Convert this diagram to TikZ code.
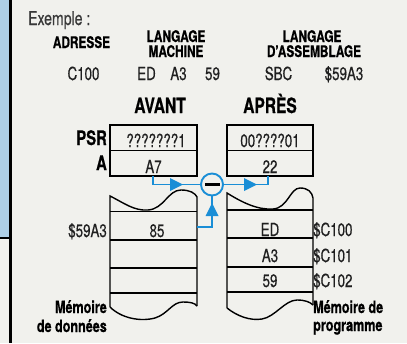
\documentclass[tikz,border=0pt]{standalone}
\usepackage{fontspec}
\setmainfont{TeX Gyre Heros}[FakeStretch=0.74, BoldFeatures={FakeBold=0.6}]
\newfontfamily\valfont{TeX Gyre Heros}[FakeStretch=0.74, FakeBold=0.5]
\usetikzlibrary{arrows.meta}
\definecolor{bg}{HTML}{F1F1ED}
\definecolor{strip}{HTML}{AECFE6}
\definecolor{lblue}{HTML}{1A8ED6}
\begin{document}
\begin{tikzpicture}[x=1pt,y=-1pt,
  hdr/.style={font=\fontsize{16}{18}\selectfont\bfseries, inner sep=0, align=center},
  val/.style={font=\valfont\fontsize{18}{20}\selectfont, inner sep=0, text=black!88},
  big/.style={font=\fontsize{21}{23}\selectfont\bfseries, inner sep=0},
  reg/.style={font=\fontsize{20}{22}\selectfont\bfseries, inner sep=0, anchor=base east},
  cell/.style={draw, line width=1.4, inner sep=0},
  mem/.style={line width=1.4},
  memlbl/.style={font=\fontsize{17}{19}\selectfont\bfseries, inner sep=0},
  flow/.style={draw=lblue, line width=1.9},
  tri/.style={fill=lblue}
]
\useasboundingbox (0,0) rectangle (407,343);
\fill[bg] (0,0) rectangle (407,343);
\fill[strip] (0,0) rectangle (10,238);
\draw[line width=1.2] (0,238) -- (10,238);
\draw[line width=2.5] (10.5,0) -- (10.5,343);

% header texts
\node[anchor=base west, inner sep=0, font=\valfont\fontsize{19}{22}\selectfont, text=black!78] (ex) at (28,25) {Exemple :};
\node[hdr, anchor=base] (adr) at (81.5,48) {ADRESSE};
\node[hdr, anchor=base] (lm1) at (176,42) {LANGAGE};
\node[hdr, anchor=base] (lm2) at (176,57) {MACHINE};
\node[hdr, anchor=base] (la1) at (312,42) {LANGAGE};
\node[hdr, anchor=base] (la2) at (314,57) {D'ASSEMBLAGE};

\node[val, anchor=base] (c100) at (83.5,80) {C100};
\node[val, anchor=base] (ed) at (146.5,80) {ED};
\node[val, anchor=base] (a3) at (178.5,80) {A3};
\node[val, anchor=base] (n59) at (212.5,80) {59};
\node[val, anchor=base] (sbc) at (278.5,80) {SBC};
\node[val, anchor=base] (addr) at (344,80) {\$59A3};

\node[big, anchor=base] (avant) at (160,113) {AVANT};
\node[big, anchor=base] (apres) at (270,113) {APRÈS};

% registers
\node[cell, minimum width=87pt, minimum height=25.5pt] (psr1) at (153.5,137.75) {};
\node[cell, minimum width=87pt, minimum height=25.5pt] (a1) at (153.5,163.25) {};
\node[cell, minimum width=86pt, minimum height=25.5pt] (psr2) at (270,137.75) {};
\node[cell, minimum width=86pt, minimum height=25.5pt] (a2) at (270,163.25) {};
\node[val, anchor=base] (t1) at (156,147) {???????1};
\node[val, anchor=base] (t2) at (153.5,173) {A7};
\node[val, anchor=base] (t3) at (270,147) {00????01};
\node[val, anchor=base] (t4) at (270,173) {22};
\node[reg] (lpsr) at (107,145) {PSR};
\node[reg] (la) at (107,170) {A};

% left memory
\draw[mem] (110,307) -- (110,196)
  .. controls (124,203) and (134,211) .. (148,210)
  .. controls (164,209) and (168,190) .. (181,190)
  .. controls (190,190) and (195,193) .. (197,197) -- (197,306);
\draw[mem] (110,307) .. controls (121,318) and (140,322) .. (155,318)
  .. controls (168,314) and (172,302) .. (183,302)
  .. controls (190,302) and (195,303) .. (197,306);
\foreach \yy in {211.5,240,268,293} \draw[mem] (110,\yy) -- (197,\yy);
\coordinate (m1) at (197,227);
\node[val, anchor=base] (v85) at (157,237) {85};
\node[val, anchor=base east] (l59a3) at (107,237) {\$59A3};

% right memory
\draw[mem] (227,308) -- (227,193)
  .. controls (243,203) and (258,210) .. (273,209)
  .. controls (288,208) and (290,188) .. (300,188)
  .. controls (308,188) and (312,192) .. (313,198) -- (313,305);
\draw[mem] (227,308) .. controls (237,316) and (250,321) .. (262,319)
  .. controls (275,317) and (285,300) .. (297,300)
  .. controls (305,300) and (310,302) .. (313,305);
\foreach \yy in {210,238,267,292} \draw[mem] (227,\yy) -- (313,\yy);
\node[val, anchor=base] (ved) at (270,236) {ED};
\node[val, anchor=base] (va3) at (270,262) {A3};
\node[val, anchor=base] (v59) at (270,287) {59};
\node[val, anchor=base west] (ad0) at (313,236) {\$C100};
\node[val, anchor=base west] (ad1) at (313,262) {\$C101};
\node[val, anchor=base west] (ad2) at (313,287) {\$C102};

\node[memlbl, anchor=base east] (mdl) at (107,313) {Mémoire};
\node[memlbl, anchor=base east] (mdl2) at (107,332) {de données};
\node[memlbl, anchor=base west] (mpl) at (313,313) {Mémoire de};
\node[memlbl, anchor=base west] (mpl2) at (313,331) {programme};

% operator
\node[draw=lblue, line width=1.9, circle, minimum size=22pt, inner sep=0] (op) at (212,184.5) {};
\draw[line width=2.6] (205,184.5) -- (220,184.5);

% flows
\draw[flow] (153,176) -- (153,184.5) -- (op.west);
\fill[tri] (170,178) -- (183,184.5) -- (170,191) -- cycle;
\draw[flow] (op.east) -- (268,184.5) -- (268,176);
\fill[tri] (244,178) -- (257,184.5) -- (244,191) -- cycle;
\draw[flow] (m1) -- (212,227) -- (op.south);
\fill[tri] (205.5,216) -- (212,203) -- (218.5,216) -- cycle;
\end{tikzpicture}
\end{document}
